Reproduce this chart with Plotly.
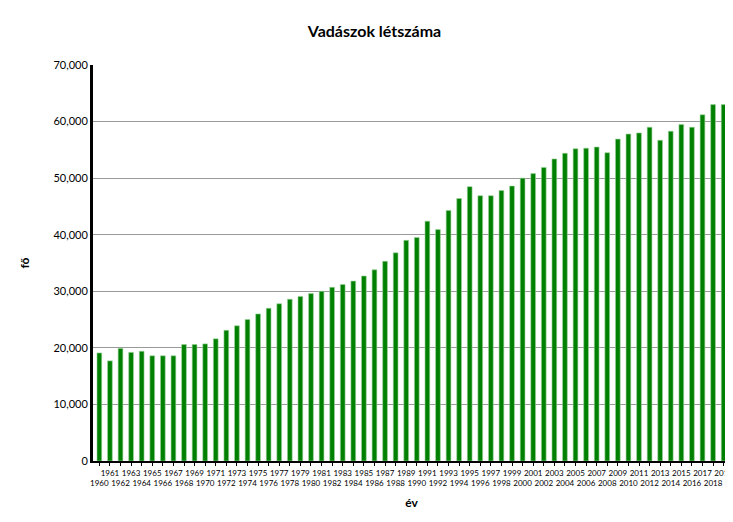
import plotly.graph_objects as go

years = list(range(1960, 2020))
hunters = [19100, 17700, 19900, 19200, 19400, 18600, 18600, 18600, 20600, 20600,
           20700, 21600, 23100, 23900, 25000, 26000, 27000, 27800, 28600, 29100,
           29600, 30000, 30700, 31200, 31800, 32700, 33800, 35300, 36800, 39000,
           39500, 42400, 40900, 44300, 46400, 48500, 46900, 46900, 47800, 48600,
           50000, 50800, 51900, 53400, 54400, 55200, 55300, 55500, 54500, 56900,
           57800, 58000, 59000, 56700, 58300, 59500, 59000, 61200, 63000, 63000]
tick_text = [("<br>" + str(y)) if y % 2 == 0 else str(y) for y in years]

fig = go.Figure(go.Bar(x=years, y=hunters, marker=dict(color="#008000", line=dict(color="#9fd39f", width=0.6))))
fig.update_layout(
    width=733, height=522,
    margin=dict(l=85, r=11, t=57, b=69),
    paper_bgcolor="white", plot_bgcolor="white",
    font=dict(family="Lato", color="black"),
    title=dict(text="<b>Vadászok létszáma</b>", x=0.5, xanchor="center", y=0.965, font=dict(size=16)),
    bargap=0.55, showlegend=False,
)
fig.update_xaxes(tickmode="array", tickvals=years, ticktext=tick_text, tickangle=0,
                 tickfont=dict(size=8), ticks="outside", ticklen=3, tickcolor="black",
                 range=[1959.4, 2019.6], showline=True, linecolor="black", linewidth=2,
                 mirror=False, automargin=False,
                 title=dict(text="<b>év</b>", font=dict(size=12), standoff=12))
fig.update_yaxes(range=[0, 70000], dtick=10000, tickformat=",", tickfont=dict(size=11),
                 showgrid=True, gridcolor="#999", gridwidth=1,
                 showline=True, linecolor="black", linewidth=3, mirror=True,
                 ticks="", automargin=False,
                 title=dict(text="<b>fő</b>", font=dict(size=12), standoff=22))
fig.write_html("out.html")
